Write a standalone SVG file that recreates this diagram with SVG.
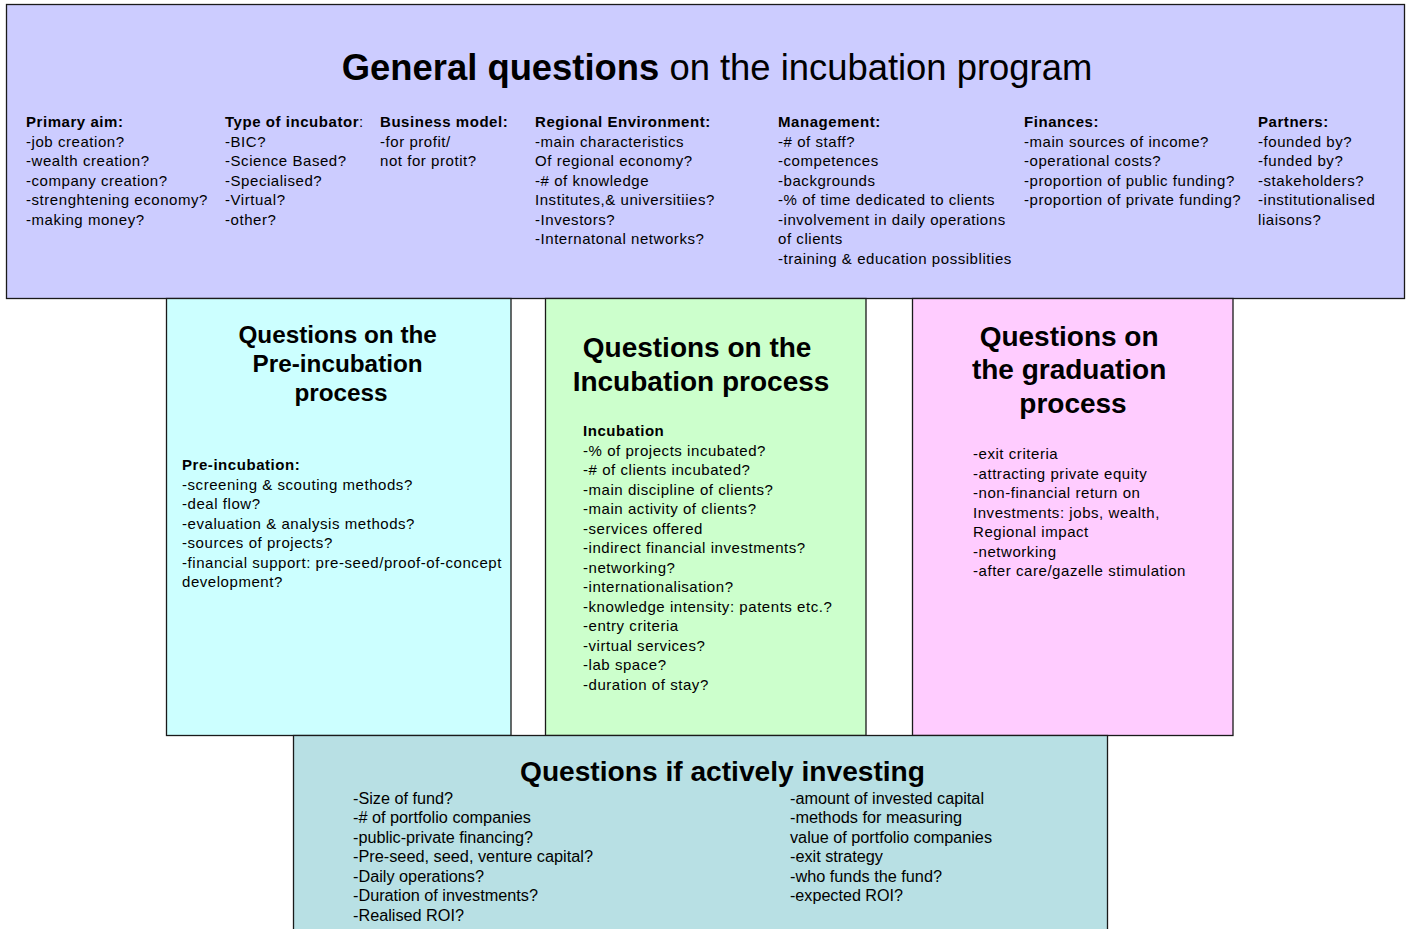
<svg xmlns="http://www.w3.org/2000/svg" width="1408" height="929" viewBox="0 0 1408 929">
  <style>
    .box { stroke: #1a1a1a; stroke-width: 1.3; }
    .t { font-family: "Liberation Sans", Arial, sans-serif; fill: #000; }
    .body { font-size: 15px; letter-spacing: 0.55px; }
    .b { font-weight: bold; }
    .head { font-size: 24.3px; font-weight: bold; text-anchor: middle; }
    .head2 { font-size: 28px; font-weight: bold; text-anchor: middle; }
    .narrow { font-size: 16px; }
  </style>
  <rect width="1408" height="929" fill="#ffffff"/>

  <!-- general questions -->
  <g id="general">
    <rect class="box" x="6.5" y="4.5" width="1398" height="294" fill="#ccccff"/>
    <text class="t" x="717" y="80" font-size="36.4" text-anchor="middle"><tspan font-weight="bold">General questions</tspan> on the incubation program</text>
    <text class="t body" x="26" y="127">
      <tspan x="26" class="b">Primary aim:</tspan>
      <tspan x="26" dy="19.5">-job creation?</tspan>
      <tspan x="26" dy="19.5">-wealth creation?</tspan>
      <tspan x="26" dy="19.5">-company creation?</tspan>
      <tspan x="26" dy="19.5">-strenghtening economy?</tspan>
      <tspan x="26" dy="19.5">-making money?</tspan>
    </text>
    <text class="t body" x="225" y="127">
      <tspan x="225"><tspan class="b">Type of incubator</tspan>:</tspan>
      <tspan x="225" dy="19.5">-BIC?</tspan>
      <tspan x="225" dy="19.5">-Science Based?</tspan>
      <tspan x="225" dy="19.5">-Specialised?</tspan>
      <tspan x="225" dy="19.5">-Virtual?</tspan>
      <tspan x="225" dy="19.5">-other?</tspan>
    </text>
    <text class="t body" x="380" y="127">
      <tspan x="380" class="b">Business model:</tspan>
      <tspan x="380" dy="19.5">-for profit/</tspan>
      <tspan x="380" dy="19.5">not for protit?</tspan>
    </text>
    <text class="t body" x="535" y="127">
      <tspan x="535" class="b">Regional Environment:</tspan>
      <tspan x="535" dy="19.5">-main characteristics</tspan>
      <tspan x="535" dy="19.5">Of regional economy?</tspan>
      <tspan x="535" dy="19.5">-# of knowledge</tspan>
      <tspan x="535" dy="19.5">Institutes,&amp; universitiies?</tspan>
      <tspan x="535" dy="19.5">-Investors?</tspan>
      <tspan x="535" dy="19.5">-Internatonal networks?</tspan>
    </text>
    <text class="t body" x="778" y="127">
      <tspan x="778" class="b">Management:</tspan>
      <tspan x="778" dy="19.5">-# of staff?</tspan>
      <tspan x="778" dy="19.5">-competences</tspan>
      <tspan x="778" dy="19.5">-backgrounds</tspan>
      <tspan x="778" dy="19.5">-% of time dedicated to clients</tspan>
      <tspan x="778" dy="19.5">-involvement in daily operations</tspan>
      <tspan x="778" dy="19.5">of clients</tspan>
      <tspan x="778" dy="19.5">-training &amp; education possiblities</tspan>
    </text>
    <text class="t body" x="1024" y="127">
      <tspan x="1024" class="b">Finances:</tspan>
      <tspan x="1024" dy="19.5">-main sources of income?</tspan>
      <tspan x="1024" dy="19.5">-operational costs?</tspan>
      <tspan x="1024" dy="19.5">-proportion of public funding?</tspan>
      <tspan x="1024" dy="19.5">-proportion of private funding?</tspan>
    </text>
    <text class="t body" x="1258" y="127">
      <tspan x="1258" class="b">Partners:</tspan>
      <tspan x="1258" dy="19.5">-founded by?</tspan>
      <tspan x="1258" dy="19.5">-funded by?</tspan>
      <tspan x="1258" dy="19.5">-stakeholders?</tspan>
      <tspan x="1258" dy="19.5">-institutionalised</tspan>
      <tspan x="1258" dy="19.5">liaisons?</tspan>
    </text>
  </g>

  <!-- pre-incubation -->
  <g id="pre-incubation">
    <rect class="box" x="166.5" y="298.5" width="344.5" height="437" fill="#ccffff"/>
    <text class="t head" x="341" y="343">
      <tspan x="341">Questions on the</tspan>
      <tspan x="341" dy="29">Pre-incubation</tspan>
      <tspan x="341" dy="29">process</tspan>
    </text>
    <text class="t body" x="182" y="470">
      <tspan x="182" class="b">Pre-incubation:</tspan>
      <tspan x="182" dy="19.5">-screening &amp; scouting methods?</tspan>
      <tspan x="182" dy="19.5">-deal flow?</tspan>
      <tspan x="182" dy="19.5">-evaluation &amp; analysis methods?</tspan>
      <tspan x="182" dy="19.5">-sources of projects?</tspan>
      <tspan x="182" dy="19.5">-financial support: pre-seed/proof-of-concept</tspan>
      <tspan x="182" dy="19.5">development?</tspan>
    </text>
  </g>

  <!-- incubation -->
  <g id="incubation">
    <rect class="box" x="545.5" y="298.5" width="320.5" height="437" fill="#ccffcc"/>
    <text class="t head2" x="701" y="356.5">
      <tspan x="701">Questions on the</tspan>
      <tspan x="701" dy="34">Incubation process</tspan>
    </text>
    <text class="t body" x="583" y="436">
      <tspan x="583" class="b">Incubation</tspan>
      <tspan x="583" dy="19.5">-% of projects incubated?</tspan>
      <tspan x="583" dy="19.5">-# of clients incubated?</tspan>
      <tspan x="583" dy="19.5">-main discipline of clients?</tspan>
      <tspan x="583" dy="19.5">-main activity of clients?</tspan>
      <tspan x="583" dy="19.5">-services offered</tspan>
      <tspan x="583" dy="19.5">-indirect financial investments?</tspan>
      <tspan x="583" dy="19.5">-networking?</tspan>
      <tspan x="583" dy="19.5">-internationalisation?</tspan>
      <tspan x="583" dy="19.5">-knowledge intensity: patents etc.?</tspan>
      <tspan x="583" dy="19.5">-entry criteria</tspan>
      <tspan x="583" dy="19.5">-virtual services?</tspan>
      <tspan x="583" dy="19.5">-lab space?</tspan>
      <tspan x="583" dy="19.5">-duration of stay?</tspan>
    </text>
  </g>

  <!-- graduation -->
  <g id="graduation">
    <rect class="box" x="912.5" y="298.5" width="320.5" height="437" fill="#ffccff"/>
    <text class="t head2" x="1073" y="345.5" font-size="29">
      <tspan x="1073">Questions on</tspan>
      <tspan x="1073" dy="33.5">the graduation</tspan>
      <tspan x="1073" dy="33.5">process</tspan>
    </text>
    <text class="t body" x="973" y="459">
      <tspan x="973">-exit criteria</tspan>
      <tspan x="973" dy="19.5">-attracting private equity</tspan>
      <tspan x="973" dy="19.5">-non-financial return on</tspan>
      <tspan x="973" dy="19.5">Investments: jobs, wealth,</tspan>
      <tspan x="973" dy="19.5">Regional impact</tspan>
      <tspan x="973" dy="19.5">-networking</tspan>
      <tspan x="973" dy="19.5">-after care/gazelle stimulation</tspan>
    </text>
  </g>

  <!-- investing -->
  <g id="investing">
    <rect class="box" x="293.5" y="735.5" width="814" height="200" fill="#b8e0e4"/>
    <text class="t" x="520" y="781" font-size="28" font-weight="bold" textLength="405" lengthAdjust="spacingAndGlyphs">Questions if actively investing</text>
    <g class="t narrow">
      <text x="353" y="803.5" textLength="100" lengthAdjust="spacingAndGlyphs">-Size of fund?</text>
      <text x="353" y="823" textLength="178" lengthAdjust="spacingAndGlyphs">-# of portfolio companies</text>
      <text x="353" y="842.5" textLength="180" lengthAdjust="spacingAndGlyphs">-public-private financing?</text>
      <text x="353" y="862" textLength="240" lengthAdjust="spacingAndGlyphs">-Pre-seed, seed, venture capital?</text>
      <text x="353" y="881.5" textLength="131" lengthAdjust="spacingAndGlyphs">-Daily operations?</text>
      <text x="353" y="901" textLength="185" lengthAdjust="spacingAndGlyphs">-Duration of investments?</text>
      <text x="353" y="920.5" textLength="111" lengthAdjust="spacingAndGlyphs">-Realised ROI?</text>
      <text x="790" y="803.5" textLength="194" lengthAdjust="spacingAndGlyphs">-amount of invested capital</text>
      <text x="790" y="823" textLength="172" lengthAdjust="spacingAndGlyphs">-methods for measuring</text>
      <text x="790" y="842.5" textLength="202" lengthAdjust="spacingAndGlyphs">value of portfolio companies</text>
      <text x="790" y="862" textLength="93" lengthAdjust="spacingAndGlyphs">-exit strategy</text>
      <text x="790" y="881.5" textLength="152" lengthAdjust="spacingAndGlyphs">-who funds the fund?</text>
      <text x="790" y="901" textLength="113" lengthAdjust="spacingAndGlyphs">-expected ROI?</text>
    </g>
  </g>
</svg>
